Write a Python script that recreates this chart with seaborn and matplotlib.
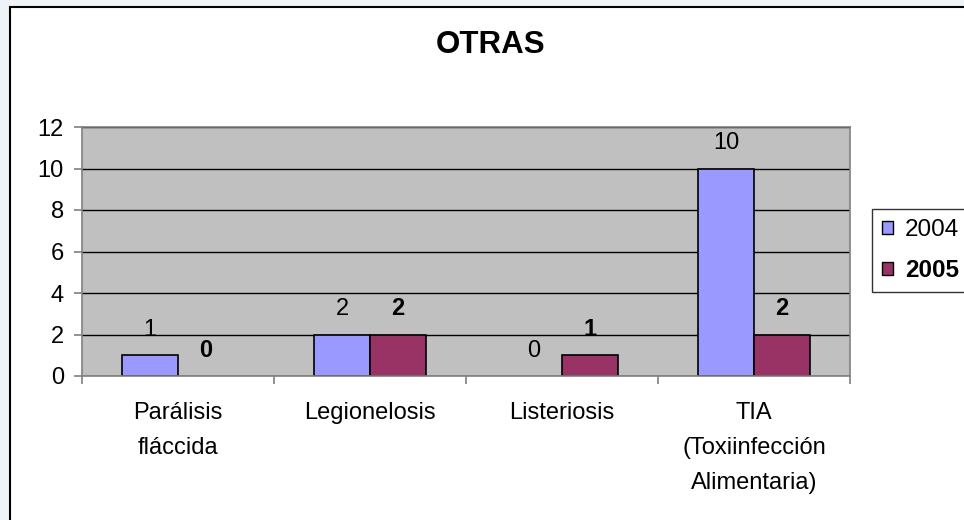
import matplotlib
matplotlib.use("Agg")
import matplotlib.pyplot as plt
from matplotlib.patches import Rectangle, Patch
import seaborn as sns
import pandas as pd

categories = ["Parálisis\nfláccida", "Legionelosis", "Listeriosis",
              "TIA\n(Toxiinfección\nAlimentaria)"]
years = ["2004", "2005"]
values_2004 = [1, 2, 0, 10]
values_2005 = [0, 2, 1, 2]
yticks = [0, 2, 4, 6, 8, 10, 12]
title = "OTRAS"

colors = {"2004": "#9999FF", "2005": "#993366"}

df = pd.DataFrame({
    "categoria": categories * 2,
    "anio": ["2004"] * 4 + ["2005"] * 4,
    "valor": values_2004 + values_2005,
})

sns.set_theme(style="white")
plt.rcParams["font.family"] = ["Liberation Sans", "DejaVu Sans"]
plt.rcParams["text.color"] = "black"
plt.rcParams["axes.labelcolor"] = "black"

FS = 17
W, H = 964, 520
fig = plt.figure(figsize=(W / 100, H / 100), dpi=100)
fig.patch.set_facecolor("#eef3f8")
fig.patches.append(Rectangle((10 / W, -0.1), 1.2, 1.1 - 7 / H,
                             transform=fig.transFigure, facecolor="white",
                             edgecolor="black", linewidth=1.5, zorder=-10))

ax = fig.add_axes([82 / W, (H - 376) / H, 768 / W, 249 / H])
sns.barplot(data=df, x="categoria", y="valor", hue="anio", order=categories,
            hue_order=years, palette=colors, width=0.58, saturation=1,
            edgecolor="black", linewidth=1.2, legend=False, ax=ax)

ax.set_facecolor("#C0C0C0")
ax.set_ylim(0, 12)
ax.set_xlim(-0.5, len(categories) - 0.5)
ax.set_yticks(yticks)
ax.set_yticklabels([str(t) for t in yticks], fontsize=FS)
ax.yaxis.grid(True, color="black", linewidth=1)
ax.xaxis.grid(False)
ax.set_axisbelow(True)
for s in ax.spines.values():
    s.set_visible(True)
    s.set_color("#808080")
    s.set_linewidth(1.2)
ax.set_xlabel("")
ax.set_ylabel("")
ax.tick_params(axis="y", length=6, width=1.2, color="#808080", labelcolor="black",
               pad=7, left=True, labelsize=FS)
ax.set_xticks(range(len(categories)))
ax.set_xticklabels(categories, fontsize=FS, linespacing=1.75)
ax.tick_params(axis="x", which="major", length=0, pad=19, bottom=True,
               labelcolor="black")
ax.set_xticks([i - 0.5 for i in range(len(categories) + 1)], minor=True)
ax.tick_params(axis="x", which="minor", length=6, width=1.2, color="#808080",
               bottom=True)

for ci, cont in enumerate(ax.containers):
    for bar in cont:
        h = bar.get_height()
        if h == 0:
            bar.set_visible(False)
        ax.annotate(f"{int(round(h))}", (bar.get_x() + bar.get_width() / 2, h),
                    xytext=(0, 14), textcoords="offset points",
                    ha="center", va="baseline", fontsize=FS, color="black",
                    fontweight="bold" if ci == 1 else "normal")

fig.text(491 / W, 1 - 45 / H, title, ha="center", va="center",
         fontsize=22.5, fontweight="bold", color="black")

handles = [Patch(facecolor=colors[y], edgecolor="black", linewidth=1) for y in years]
leg = fig.legend(handles, years, loc="upper left",
                 bbox_to_anchor=(872 / W, 1 - 209 / H), bbox_transform=fig.transFigure,
                 borderaxespad=0, fontsize=17.5, frameon=True, fancybox=False,
                 handlelength=0.45, handleheight=0.45, handletextpad=0.5,
                 labelspacing=0.75, borderpad=0.4)
leg.get_frame().set_edgecolor("black")
leg.get_frame().set_linewidth(1)
leg.get_texts()[1].set_fontweight("bold")

fig.savefig("out.png", dpi=100, facecolor=fig.get_facecolor())
